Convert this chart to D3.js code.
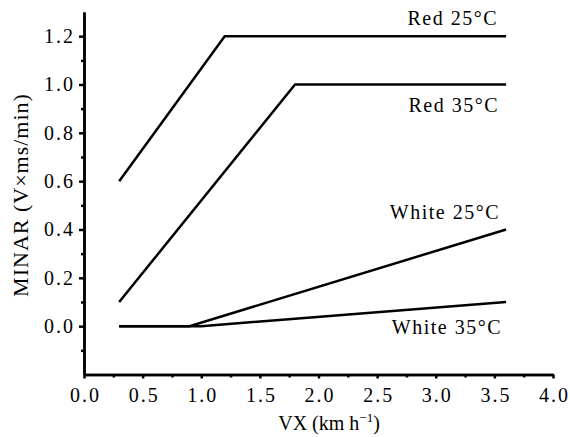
<!DOCTYPE html>
<html>
<head>
<meta charset="utf-8">
<script src="https://cdn.jsdelivr.net/npm/d3@7"></script>
<style>
  body { margin: 0; background: #fff; }
  svg text { font-family: "Liberation Serif", "DejaVu Serif", serif; }
  .axis path, .axis line { stroke: #000; stroke-width: 2.5; }
</style>
</head>
<body>
<svg width="570" height="437"></svg>
<script>
var width = 570;
var height = 437;

// data
var seriesNames = ['Red 25°C', 'Red 35°C', 'White 25°C', 'White 35°C'];
var red25 = [[0.3, 0.6], [1.2, 1.2], [3.6, 1.2]];
var red35 = [[0.3, 0.1], [1.8, 1.0], [3.6, 1.0]];
var white25 = [[0.3, 0.0], [0.9, 0.0], [3.6, 0.4]];
var white35 = [[0.3, 0.0], [1.0, 0.0], [3.6, 0.1]];
var allSeries = [red25, red35, white25, white35];

var xTicks = [0, 0.5, 1, 1.5, 2, 2.5, 3, 3.5, 4];
var xMinor = [0.25, 0.75, 1.25, 1.75, 2.25, 2.75, 3.25, 3.75];
var yTicks = [0, 0.2, 0.4, 0.6, 0.8, 1.0, 1.2];
var yMinor = [-0.1, 0.1, 0.3, 0.5, 0.7, 0.9, 1.1];

// Scales
var xScale = d3.scaleLinear()
                .domain([0, 4])
                .range([84, 553]);

var yScale = d3.scaleLinear()
                .domain([-0.2, 1.3])
                .range([374.5, 12]);

var svg = d3.select('svg');

// Axes
var xAxis = d3.axisBottom(xScale)
                .tickValues(xTicks)
                .tickFormat(d3.format('.1f'))
                .tickSize(4)
                .tickSizeOuter(0)
                .tickPadding(9);

var xAxisMinor = d3.axisBottom(xScale)
                .tickValues(xMinor)
                .tickFormat('')
                .tickSize(3)
                .tickSizeOuter(0);

var yAxis = d3.axisLeft(yScale)
                .tickValues(yTicks)
                .tickFormat(d3.format('.1f'))
                .tickSize(5)
                .tickSizeOuter(0)
                .tickPadding(4);

var yAxisMinor = d3.axisLeft(yScale)
                .tickValues(yMinor)
                .tickFormat('')
                .tickSize(3)
                .tickSizeOuter(0);

function styleAxis(g) {
    g.attr('class', 'axis')
     .attr('font-family', null)
     .attr('font-size', null);
    g.selectAll('text')
     .attr('fill', '#000')
     .style('font-family', '"Liberation Serif", serif')
     .style('font-size', '20px')
     .style('letter-spacing', '2px');
}

svg.append('g')
    .attr('transform', 'translate(0,' + yScale(-0.2) + ')')
    .call(xAxisMinor)
    .call(styleAxis);

svg.append('g')
    .attr('transform', 'translate(0,' + yScale(-0.2) + ')')
    .call(xAxis)
    .call(styleAxis)
    .selectAll('text')
        .attr('dx', '1px');

svg.append('g')
    .attr('transform', 'translate(' + xScale(0) + ',0)')
    .call(yAxisMinor)
    .call(styleAxis);

svg.append('g')
    .attr('transform', 'translate(' + xScale(0) + ',0)')
    .call(yAxis)
    .call(styleAxis);

// Lines
var line = d3.line()
                .x(d => xScale(d[0]))
                .y(d => yScale(d[1]));

svg.selectAll('path.series')
    .data(allSeries)
    .enter()
    .append('path')
        .attr('class', 'series')
        .attr('d', line)
        .attr('fill', 'none')
        .attr('stroke', '#000')
        .attr('stroke-width', 2.5)
        .attr('stroke-linejoin', 'miter');

// Series labels
var labelPos = [[498, 25], [499, 112], [500, 219], [502, 334]];

svg.selectAll('text.label')
    .data(seriesNames)
    .enter()
    .append('text')
        .attr('class', 'label')
        .attr('x', (d, i) => labelPos[i][0])
        .attr('y', (d, i) => labelPos[i][1])
        .style('text-anchor', 'end')
        .style('font-size', '20px')
        .style('letter-spacing', '1.5px')
        .text(d => d);

// Axis titles
var xTitle = svg.append('text')
    .attr('x', 329)
    .attr('y', 430)
    .style('text-anchor', 'middle')
    .style('font-size', '20px');
xTitle.append('tspan').text('VX (km h');
xTitle.append('tspan').attr('dy', -8).style('font-size', '13px').text('−1');
xTitle.append('tspan').attr('dy', 8).text(')');

svg.append('text')
    .attr('transform', 'rotate(-90)')
    .attr('x', -195)
    .attr('y', 28)
    .style('text-anchor', 'middle')
    .style('font-size', '22px')
    .style('letter-spacing', '1px')
    .text('MINAR (V×ms/min)');
</script>
</body>
</html>
